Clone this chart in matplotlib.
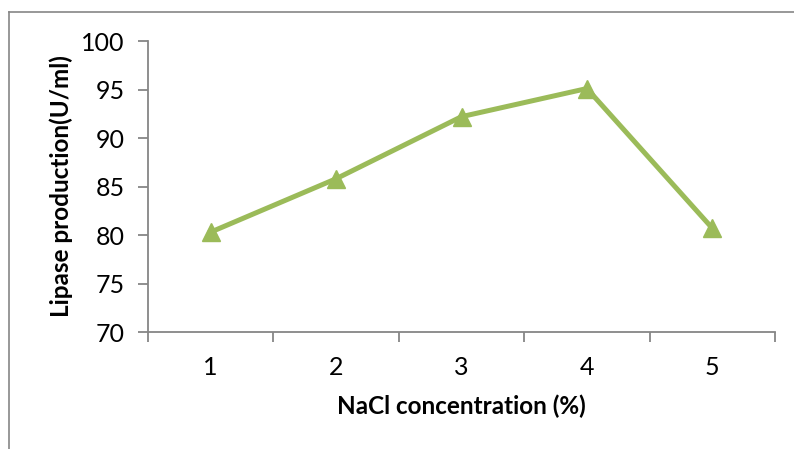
import matplotlib
matplotlib.use("Agg")
import matplotlib.pyplot as plt
from matplotlib.lines import Line2D
from matplotlib.ticker import FixedLocator

# NaCl concentration (%) and lipase activity (U/ml)
nacl = [1, 2, 3, 4, 5]
lipase = [80.3, 85.8, 92.2, 95.1, 80.7]
y_ticks = [70, 75, 80, 85, 90, 95, 100]

plt.rcParams['font.family'] = ['Lato', 'DejaVu Sans']

W, H = 794, 449
fig = plt.figure(figsize=(W / 100, H / 100), dpi=100)
ax = fig.add_axes([148 / W, (H - 332) / H, (775 - 148) / W, (332 - 41) / H])

green = '#9BBB59'
axis_gray = '#868686'

ax.plot(nacl, lipase, color=green, lw=3.6, marker='^', markersize=13.5,
        markerfacecolor=green, markeredgecolor=green, solid_joinstyle='miter')

ax.set_xlim(0.5, 5.5)
ax.set_ylim(70, 100)
ax.set_yticks(y_ticks)
ax.set_xticks(nacl)
ax.xaxis.set_minor_locator(FixedLocator([0.5 + i for i in range(6)]))

for side in ('top', 'right'):
    ax.spines[side].set_visible(False)
for side in ('left', 'bottom'):
    ax.spines[side].set_color(axis_gray)
    ax.spines[side].set_linewidth(1.3)

ax.tick_params(axis='y', which='major', direction='out', length=7, width=1.3,
               color=axis_gray, labelsize=18, pad=10)
ax.tick_params(axis='x', which='major', length=0, labelsize=18, pad=17)
ax.tick_params(axis='x', which='minor', direction='out', length=7, width=1.3,
               color=axis_gray)

ax.set_xlabel('NaCl concentration (%)', fontsize=17.5, fontweight='bold', va='center')
ax.set_ylabel('Lipase production(U/ml)', fontsize=17.5, fontweight='bold', va='center')
ax.xaxis.set_label_coords(0.5, (332 - 406) / 291)
ax.yaxis.set_label_coords((61 - 148) / 627, 0.5)

# outer chart frame (top and left edges)
fig.add_artist(Line2D([9 / W, 9 / W], [0, 1 - 12 / H], color=axis_gray, lw=1.2,
                      transform=fig.transFigure))
fig.add_artist(Line2D([9 / W, 1], [1 - 12 / H, 1 - 12 / H], color=axis_gray, lw=1.2,
                      transform=fig.transFigure))

fig.savefig('out.png', dpi=100)
